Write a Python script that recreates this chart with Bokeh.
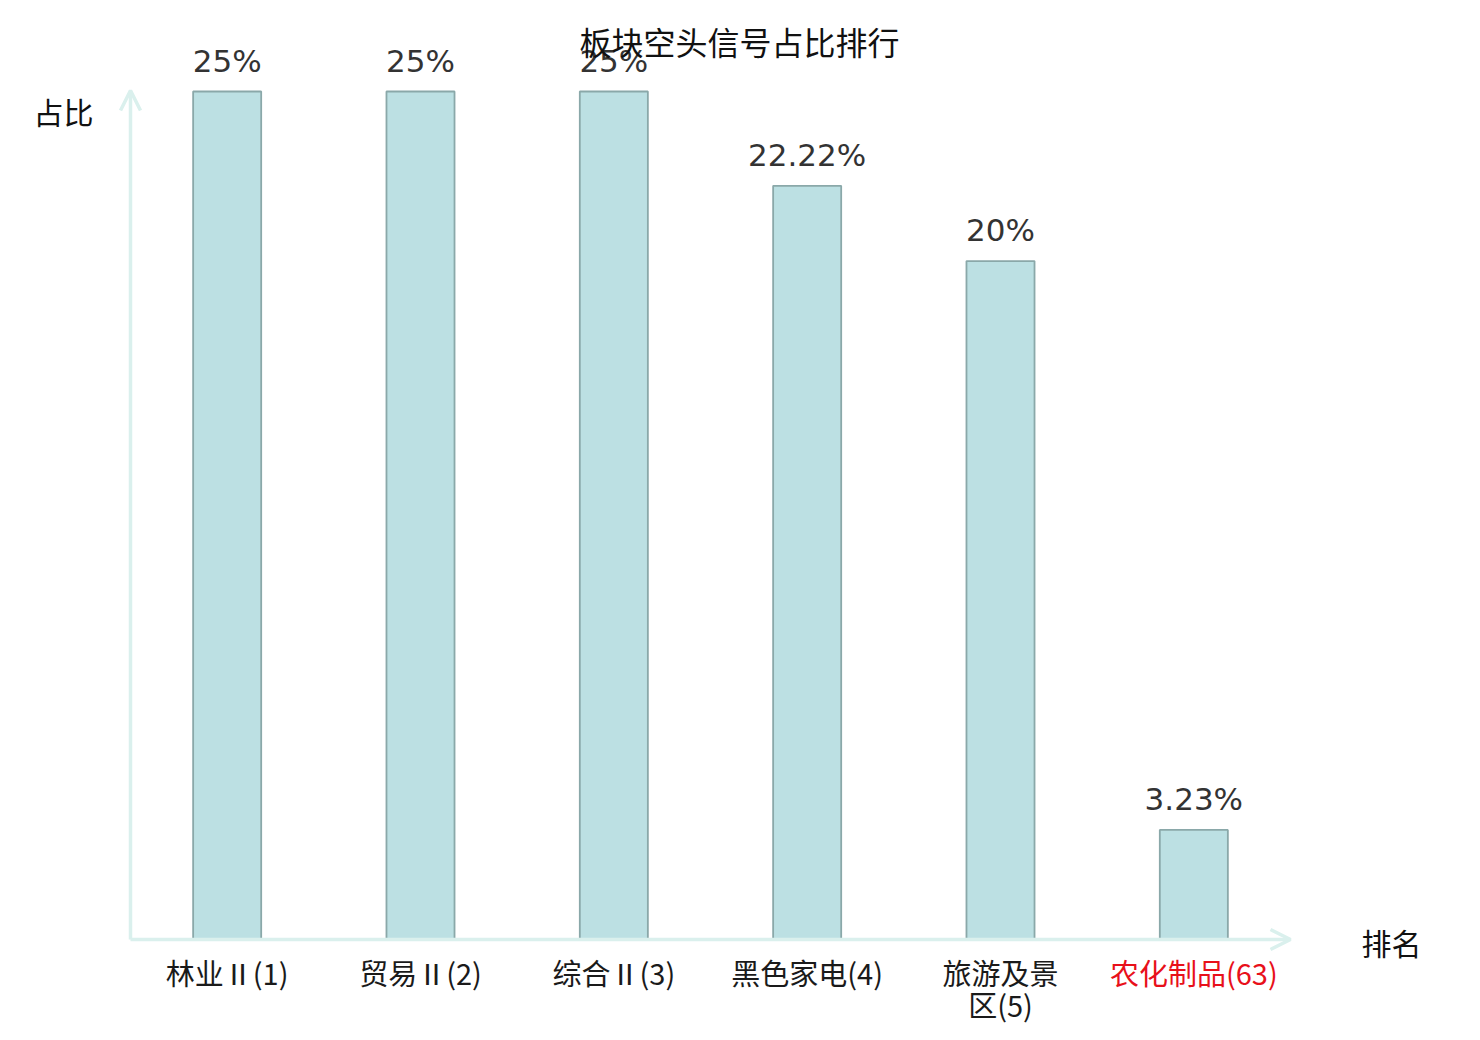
from bokeh.plotting import figure
from bokeh.models import Range1d, ColumnDataSource, Arrow, OpenHead, Label
from bokeh.core.properties import value
from bokeh.embed import file_html
from bokeh.resources import INLINE

title = "板块空头信号占比排行"
categories = ["林业Ⅱ(1)", "贸易Ⅱ(2)", "综合Ⅱ(3)", "黑色家电(4)", "旅游及景\n区(5)", "农化制品(63)"]
values = [25, 25, 25, 22.22, 20, 3.23]
value_labels = ["25%", "25%", "25%", "22.22%", "20%", "3.23%"]
label_colors = ["#1a1a1a", "#1a1a1a", "#1a1a1a", "#1a1a1a", "#1a1a1a", "#e8101a"]
y_name = "占比"
x_name = "排名"

W, H = 1464, 1024
xs = [i + 0.5 for i in range(len(categories))]

p = figure(width=W, height=H, output_backend="svg", toolbar_location=None,
           x_range=Range1d(-0.6724, 6.900), y_range=Range1d(-2.506, 27.683),
           min_border=0, min_border_left=0, min_border_right=0,
           min_border_top=0, min_border_bottom=0)
p.axis.visible = False
p.grid.visible = False
p.outline_line_color = None
p.background_fill_color = "white"
p.border_fill_color = "white"

src = ColumnDataSource(dict(x=xs, top=values, lab=value_labels, cat=categories, col=label_colors))

p.vbar(x="x", top="top", bottom=0, width=0.352, source=src,
       fill_color="#bce0e3", line_color="#8aa8a9", line_width=1.8)

# axes with arrows
axis_col = "#daf0ed"
p.add_layout(Arrow(x_start=0, y_start=0, x_end=6.0, y_end=0,
                   line_color=axis_col, line_width=3.5,
                   end=OpenHead(size=20, line_color=axis_col, line_width=3.5)))
p.add_layout(Arrow(x_start=0, y_start=0, x_end=0, y_end=25.03,
                   line_color=axis_col, line_width=3.5,
                   end=OpenHead(size=20, line_color=axis_col, line_width=3.5)))

p.text(x="x", y="top", text="lab", source=src, text_align="center",
       text_baseline="alphabetic", y_offset=-31,
       text_font=value("DejaVu Sans"), text_font_size="31px", text_color="#333333")

p.text(x="x", y=0, text="cat", source=src, text_align="center",
       text_baseline="top", y_offset=12, text_line_height=0.75,
       text_font=value("Noto Sans CJK SC"), text_font_size="29px", text_color="col")

p.add_layout(Label(x=739, y=H - 40, x_units="screen", y_units="screen", text=title,
                   text_align="center", text_baseline="middle",
                   text_font="Noto Sans CJK SC", text_font_size="32px", text_color="#111111"))
p.add_layout(Label(x=63, y=H - 110, x_units="screen", y_units="screen", text=y_name,
                   text_align="center", text_baseline="middle",
                   text_font="Noto Sans CJK SC", text_font_size="30px", text_color="#111111"))
p.add_layout(Label(x=1391, y=H - 941, x_units="screen", y_units="screen", text=x_name,
                   text_align="center", text_baseline="middle",
                   text_font="Noto Sans CJK SC", text_font_size="30px", text_color="#111111"))

open("out.html", "w").write(file_html(p, INLINE))
